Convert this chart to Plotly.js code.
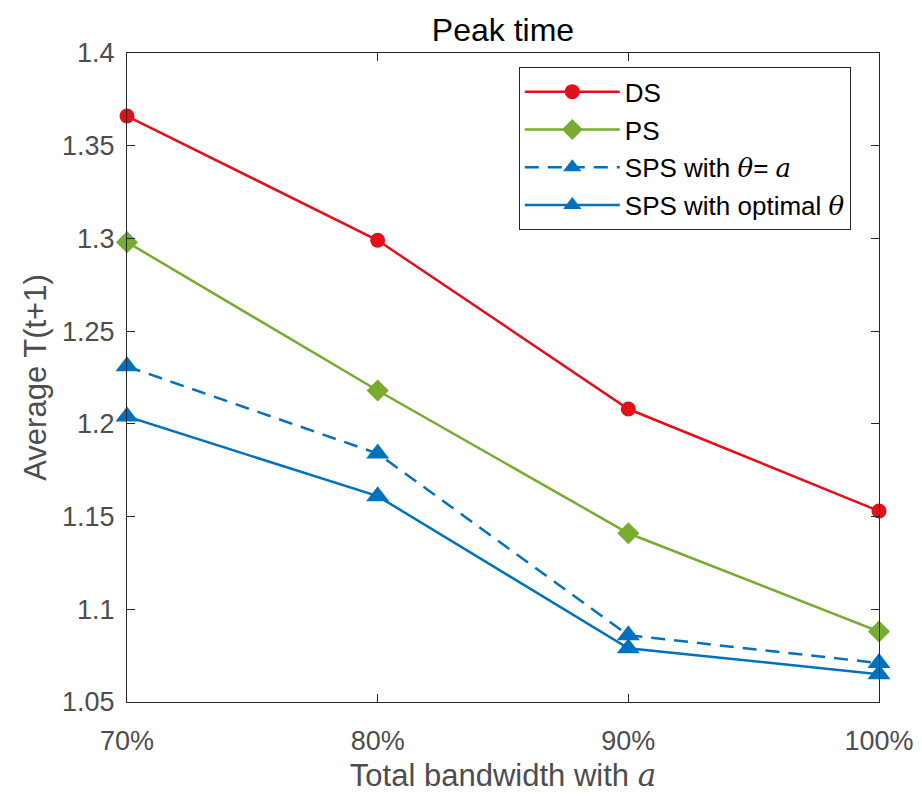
<!DOCTYPE html>
<html>
<head>
<meta charset="utf-8">
<script src="https://cdn.plot.ly/plotly-3.0.1.min.js"></script>
<style>html,body{margin:0;padding:0;background:#fff;}#chart{width:922px;height:797px;}</style>
</head>
<body>
<div id="chart"></div>
<script>
var categories = ["70%", "80%", "90%", "100%"];
var dsValues = [1.366, 1.299, 1.208, 1.153];
var psValues = [1.298, 1.218, 1.141, 1.088];
var spsAValues = [1.231, 1.184, 1.086, 1.071];
var spsOptValues = [1.204, 1.161, 1.079, 1.065];
var yTicks = [1.05, 1.1, 1.15, 1.2, 1.25, 1.3, 1.35, 1.4];

var mathA = "<span style='font-family:\"DejaVu Serif\"'><i>a</i></span>";
var mathTheta = "<span style='font-family:\"DejaVu Serif\"'><i>θ</i></span>";

var red = "#E3101A", green = "#77AC30", blue = "#0072BD";
var traces = [
  {x: categories, y: dsValues, name: "DS", mode: "lines+markers", legendgroup: "g1",
   line: {color: red, width: 2.5}, marker: {symbol: "circle", size: 15, color: red}, cliponaxis: false},
  {x: categories, y: psValues, name: "PS", mode: "lines+markers", legendgroup: "g2",
   line: {color: green, width: 2.5}, marker: {symbol: "diamond", size: 17, color: green}, cliponaxis: false},
  {x: categories, y: spsAValues, name: "SPS with " + mathTheta + "= " + mathA, mode: "lines+markers", legendgroup: "g3",
   line: {color: blue, width: 2.5, dash: "14px,9px"}, marker: {symbol: "triangle-up", size: 20, color: blue}, cliponaxis: false},
  {x: categories, y: spsOptValues, name: "SPS with optimal " + mathTheta, mode: "lines+markers", legendgroup: "g4",
   line: {color: blue, width: 2.5}, marker: {symbol: "triangle-up", size: 20, color: blue}, cliponaxis: false}
];

var axisCommon = {
  showgrid: false, zeroline: false, showline: true, linecolor: "#262626", linewidth: 1,
  mirror: "ticks", ticks: "inside", ticklen: 8, tickcolor: "#262626",
  tickfont: {family: "Liberation Sans, Arial, sans-serif", size: 27, color: "#4d4d4d"}
};

var layout = {
  width: 922, height: 797,
  margin: {l: 127, r: 43, t: 53, b: 95},
  paper_bgcolor: "#fff", plot_bgcolor: "#fff",
  font: {family: "Liberation Sans, Arial, sans-serif", color: "#262626"},
  title: {text: "Peak time", x: 0.5, xref: "paper", y: 1 - 30/797, yref: "container", yanchor: "middle",
          font: {size: 32, color: "#000"}},
  xaxis: Object.assign({}, axisCommon, {
    type: "category", range: [0, 3], tickvals: categories, ticktext: categories,
    ticklabelstandoff: 15,
    title: {text: "Total bandwidth with " + mathA, font: {size: 31, color: "#4d4d4d"}, standoff: 8}
  }),
  yaxis: Object.assign({}, axisCommon, {
    range: [1.05, 1.4], tickvals: yTicks, ticktext: yTicks.map(String),
    ticklabelstandoff: 6,
    title: {text: "Average T(t+1)", font: {size: 31, color: "#4d4d4d"}, standoff: 6}
  }),
  showlegend: true,
  legend: {x: 0.521, y: 0.978, xanchor: "left", yanchor: "top",
           bgcolor: "#fff", bordercolor: "#262626", borderwidth: 1,
           font: {size: 26, color: "#000"}, itemwidth: 95, tracegroupgap: 1}
};

Plotly.newPlot("chart", traces, layout, {displayModeBar: false});
</script>
</body>
</html>
